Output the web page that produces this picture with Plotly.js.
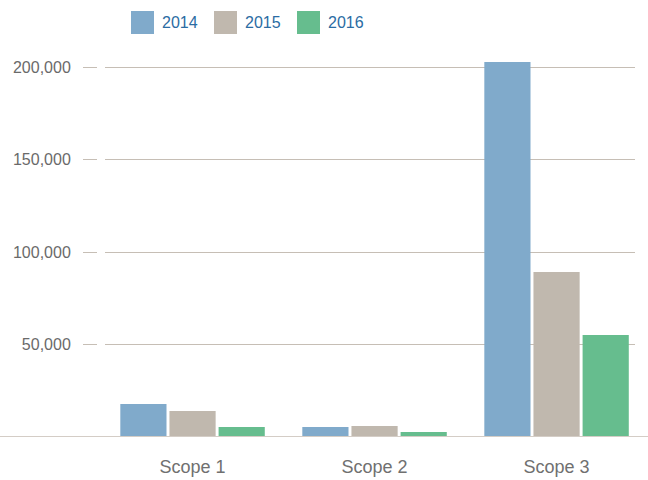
<!DOCTYPE html>
<html>
<head>
<meta charset="utf-8">
<script src="https://cdn.plot.ly/plotly-3.0.1.min.js"></script>
<style>html,body{margin:0;padding:0;background:#fff;}#chart{width:648px;height:480px;}</style>
</head>
<body>
<div id="chart"></div>
<script>
var categories = ["Scope 1", "Scope 2", "Scope 3"];
var seriesNames = ["2014", "2015", "2016"];
var values2014 = [17800, 5400, 202700];
var values2015 = [14000, 6000, 89200];
var values2016 = [5400, 2700, 55100];
var tickValues = [50000, 100000, 150000, 200000];
var tickLabels = ["50,000", "100,000", "150,000", "200,000"];
var colors = ["#80aacb", "#c0b8ae", "#66bd8e"];

var W = 648, T = 48, B = 43, H = 480;
var PH = H - T - B;
function py(p) { return (H - B - p) / PH; }

var allValues = [values2014, values2015, values2016];
var traces = allValues.map(function (v, i) {
  return {
    type: "bar", x: categories, y: v, name: seriesNames[i],
    marker: {color: colors[i], line: {width: 0}},
    showlegend: false, hoverinfo: "x+y"
  };
});

var shapes = [];
// baseline
shapes.push({type: "line", xref: "paper", yref: "y", x0: 0, x1: 1, y0: 0, y1: 0,
  line: {color: "#d4cdc6", width: 2}, layer: "above"});
// custom legend squares and labels
var annotations = [];
var legX = [131, 214, 297];
seriesNames.forEach(function (n, i) {
  shapes.push({type: "rect", xref: "paper", yref: "paper",
    x0: legX[i] / W, x1: (legX[i] + 23) / W,
    y0: py(34), y1: py(11),
    fillcolor: colors[i], line: {width: 0}});
  annotations.push({xref: "paper", yref: "paper", x: (legX[i] + 29) / W, y: py(22.5),
    xanchor: "left", yanchor: "middle", showarrow: false, text: n,
    font: {family: "Liberation Sans, Arial, sans-serif", size: 16, color: "#2b6ca3"}});
});

var layout = {
  width: W, height: H,
  margin: {l: 0, r: 0, t: T, b: B, pad: 0},
  paper_bgcolor: "#ffffff", plot_bgcolor: "#ffffff",
  font: {family: "Liberation Sans, Arial, sans-serif", color: "#6f6f6f"},
  barmode: "group", bargap: 0.19, bargroupgap: 0.06,
  showlegend: false,
  xaxis: {
    domain: [105 / W, 635 / W], range: [-0.481, 2.431],
    showgrid: false, zeroline: false, showline: false,
    ticks: "", tickfont: {size: 18, color: "#707070"},
    ticklabelstandoff: 17, fixedrange: true
  },
  yaxis: {
    anchor: "free", position: 97 / W,
    range: [0, 210270], tickvals: tickValues, ticktext: tickLabels,
    showgrid: true, gridcolor: "#c6beb5", gridwidth: 1,
    zeroline: false, showline: false,
    ticks: "outside", ticklen: 14, tickcolor: "#c6beb5", tickwidth: 1,
    tickfont: {size: 16, color: "#6a6a6a"}, ticklabelstandoff: 9,
    fixedrange: true
  },
  shapes: shapes,
  annotations: annotations
};

Plotly.newPlot("chart", traces, layout, {displayModeBar: false, staticPlot: true});
</script>
</body>
</html>
